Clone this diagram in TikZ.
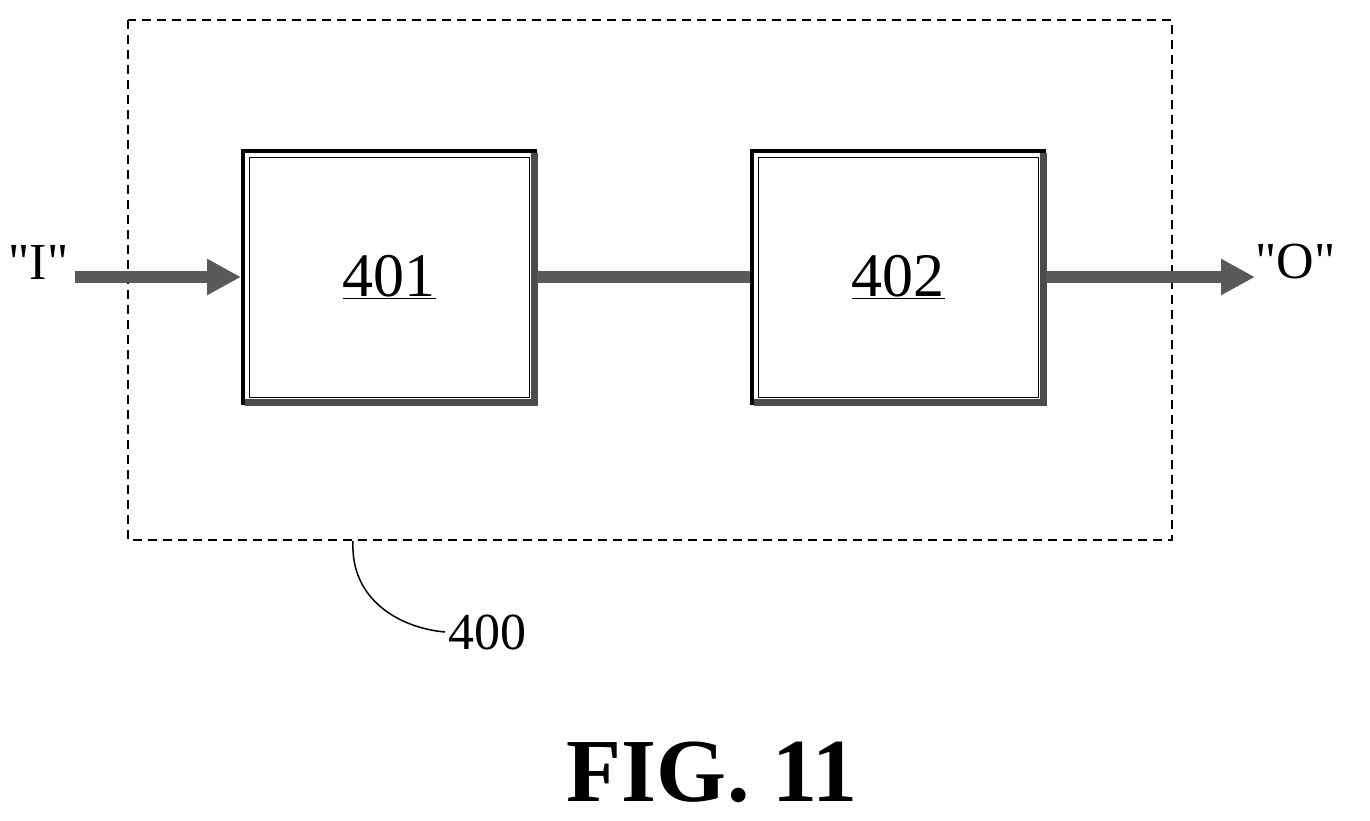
\documentclass[tikz,border=0pt]{standalone}
\usepackage{fontspec}
\setmainfont{Liberation Serif}
\usetikzlibrary{arrows.meta,positioning,calc}
\begin{document}
\begin{tikzpicture}[x=1pt,y=-1pt,
		blk/.style={draw=black,line width=4pt,minimum width=292pt,minimum height=252pt,inner sep=0pt,
			fill=white,font=\fontsize{62}{62}\selectfont},
		inner/.style={draw=black,line width=1pt},
		shd/.style={draw=black!70,line width=7pt},
		flow/.style={draw=black!65,line width=12pt},
		lbl/.style={font=\fontsize{52}{52}\selectfont},
	]
	\useasboundingbox (0,0) rectangle (1370,820);
	\draw[line width=2pt,dash pattern=on 9pt off 6pt] (128,20) rectangle (1172,540);
	\node[blk] (b1) at (389,277) {\underline{401}};
	\node[blk] (b2) at (898,277) {\underline{402}};
	% inner frames and shadows
	\foreach \b in {b1,b2}{
		\draw[inner] ($(\b.north west)+(8,8)$) rectangle ($(\b.south east)+(-8,-8)$);
		\draw[shd] ($(\b.north east)+(-3,4)$) -- ($(\b.south east)+(-3,-3)$) -- ($(\b.south west)+(4,-3)$);
	}
	\node[lbl,anchor=east] (in) at (72,262) {\textquotedbl I\textquotedbl};
	\node[lbl,anchor=west] (out) at (1252,262) {\textquotedbl O\textquotedbl};
	\coordinate (inA) at (75,277);
	\coordinate (outA) at (1255,277);
	\draw[flow,-{Triangle[length=34pt,width=34pt]}] (inA) -- (inA -| b1.west);
	\draw[flow] (b1.east |- inA) -- (b2.west |- inA);
	\draw[flow,-{Triangle[length=34pt,width=34pt]}] (b2.east |- inA) -- (outA);
	\node[lbl,anchor=west] (n400) at (445,632) {400};
	\coordinate (lead) at (353,541);
	\draw[line width=1.5pt] (lead) .. controls (350,600) and (400,628) .. (n400.west);
	\node[font=\fontsize{90}{90}\selectfont\bfseries,inner sep=0pt] (fig) at (712,772) {FIG. 11};
\end{tikzpicture}
\end{document}
